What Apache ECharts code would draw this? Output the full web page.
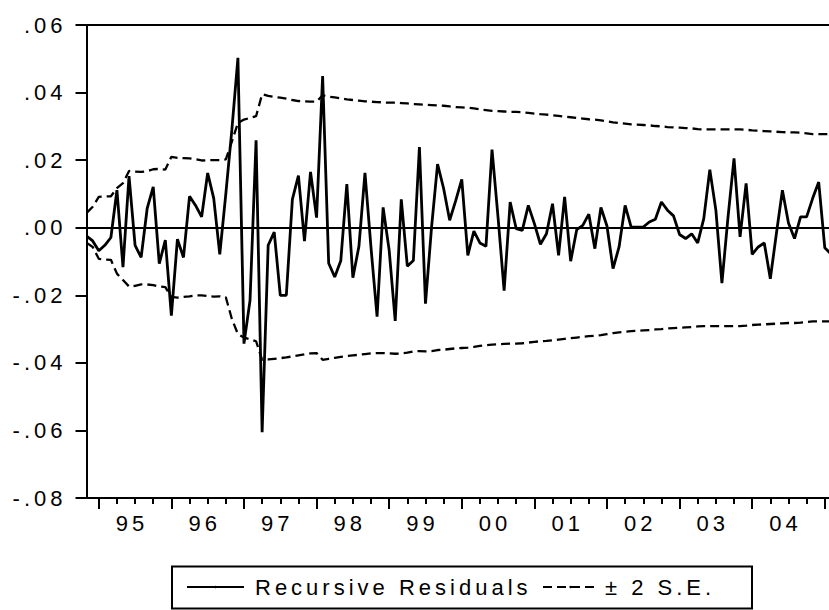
<!DOCTYPE html>
<html>
<head>
<meta charset="utf-8">
<title>Recursive Residuals</title>
<script src="https://cdn.jsdelivr.net/npm/echarts@6/dist/echarts.min.js"></script>
<style>
  html, body { margin: 0; padding: 0; background: #fff; }
  #chart { width: 829px; height: 610px; }
  #chart text { letter-spacing: 4px; }
</style>
</head>
<body>
<div id="chart"></div>
<script>
// Monthly sample, first recursive residual in 1994:11 (two months before Jan 1995)
const firstObsOffset = -2; // months relative to January 1995

const residuals = [
  -0.0025, -0.0039, -0.0068, -0.0052, -0.0029, 0.0111, -0.0117, 0.0153, -0.0052, -0.0088,
   0.0057,  0.0121, -0.0106, -0.0037, -0.0260, -0.0034, -0.0088, 0.0093,  0.0066,  0.0032,
   0.0162,  0.0087, -0.0079,  0.0100,  0.0290,  0.0503, -0.0343, -0.0215, 0.0259, -0.0605,
  -0.0052, -0.0013, -0.0200, -0.0200,  0.0084,  0.0154, -0.0040, 0.0165,  0.0030,  0.0449,
  -0.0105, -0.0146, -0.0098,  0.0129, -0.0148, -0.0055,  0.0162, -0.0060, -0.0263,  0.0060,
  -0.0067, -0.0276,  0.0084, -0.0114, -0.0097,  0.0239, -0.0225, 0.0000,  0.0188,  0.0116,
   0.0022,  0.0080,  0.0143, -0.0082, -0.0010, -0.0045, -0.0055, 0.0231,  0.0030, -0.0186,
   0.0076, -0.0003, -0.0008,  0.0066,  0.0012, -0.0049, -0.0018, 0.0071, -0.0082,  0.0091,
  -0.0099, -0.0006,  0.0007,  0.0040, -0.0062,  0.0060,  0.0005, -0.0121, -0.0057,  0.0066,
   0.0002,  0.0002,  0.0002,  0.0017,  0.0025,  0.0076,  0.0052, 0.0035, -0.0020, -0.0032,
  -0.0018, -0.0045,  0.0027,  0.0172,  0.0052, -0.0164,  0.0030, 0.0205, -0.0027,  0.0131,
  -0.0079, -0.0057, -0.0045, -0.0151, -0.0018,  0.0111,  0.0014, -0.0032, 0.0032,  0.0032,
   0.0087,  0.0135, -0.0059, -0.0077
];

const upperBand = [
  0.0044, 0.0062, 0.0091, 0.0093, 0.0093, 0.0117, 0.0132, 0.0168, 0.0166, 0.0165,
  0.0167, 0.0173, 0.0174, 0.0172, 0.0210, 0.0207, 0.0206, 0.0205, 0.0203, 0.0199,
  0.0200, 0.0200, 0.0200, 0.0202, 0.0255, 0.0310, 0.0320, 0.0325, 0.0330, 0.0395,
  0.0390, 0.0387, 0.0385, 0.0382, 0.0378, 0.0375, 0.0374, 0.0373, 0.0373, 0.0392,
  0.0388, 0.0386, 0.0383, 0.0380, 0.0378, 0.0376, 0.0374, 0.0373, 0.0372, 0.0371,
  0.0370, 0.0370, 0.0369, 0.0368, 0.0366, 0.0365, 0.0364, 0.0363, 0.0362, 0.0361,
  0.0359, 0.0357, 0.0356, 0.0355, 0.0353, 0.0350, 0.0348, 0.0346, 0.0345, 0.0344,
  0.0343, 0.0343, 0.0342, 0.0340, 0.0338, 0.0336, 0.0335, 0.0333, 0.0331, 0.0329,
  0.0327, 0.0325, 0.0323, 0.0321, 0.0320, 0.0318, 0.0315, 0.0312, 0.0310, 0.0308,
  0.0306, 0.0305, 0.0304, 0.0303, 0.0301, 0.0300, 0.0298, 0.0297, 0.0296, 0.0295,
  0.0294, 0.0292, 0.0291, 0.0291, 0.0291, 0.0291, 0.0291, 0.0291, 0.0291, 0.0290,
  0.0288, 0.0287, 0.0286, 0.0285, 0.0284, 0.0283, 0.0282, 0.0282, 0.0281, 0.0279,
  0.0277, 0.0277, 0.0277, 0.0277
];

const lowerBand = [
  -0.0045, -0.0057, -0.0092, -0.0094, -0.0095, -0.0136, -0.0155, -0.0174, -0.0172, -0.0168,
  -0.0168, -0.0170, -0.0174, -0.0176, -0.0205, -0.0207, -0.0205, -0.0203, -0.0200, -0.0200,
  -0.0202, -0.0204, -0.0203, -0.0206, -0.0270, -0.0315, -0.0325, -0.0330, -0.0336, -0.0391,
  -0.0390, -0.0388, -0.0386, -0.0384, -0.0381, -0.0378, -0.0375, -0.0372, -0.0371, -0.0391,
  -0.0388, -0.0385, -0.0382, -0.0380, -0.0378, -0.0376, -0.0374, -0.0372, -0.0371, -0.0371,
  -0.0372, -0.0373, -0.0372, -0.0370, -0.0366, -0.0365, -0.0366, -0.0365, -0.0362, -0.0361,
  -0.0359, -0.0357, -0.0356, -0.0355, -0.0353, -0.0350, -0.0348, -0.0346, -0.0345, -0.0344,
  -0.0343, -0.0343, -0.0342, -0.0340, -0.0338, -0.0336, -0.0335, -0.0333, -0.0331, -0.0329,
  -0.0327, -0.0325, -0.0323, -0.0321, -0.0320, -0.0318, -0.0315, -0.0312, -0.0310, -0.0308,
  -0.0306, -0.0305, -0.0304, -0.0303, -0.0301, -0.0300, -0.0298, -0.0297, -0.0296, -0.0295,
  -0.0294, -0.0292, -0.0291, -0.0291, -0.0291, -0.0291, -0.0291, -0.0291, -0.0291, -0.0290,
  -0.0288, -0.0287, -0.0286, -0.0285, -0.0284, -0.0283, -0.0282, -0.0282, -0.0281, -0.0279,
  -0.0277, -0.0277, -0.0277, -0.0277
];

const yearLabels = ['95', '96', '97', '98', '99', '00', '01', '02', '03', '04'];
const yTicks = { min: -0.08, max: 0.06, step: 0.02 };

// ---- derived helpers -------------------------------------------------
const toPoints = arr => arr.map((v, i) => [i + firstObsOffset, v]);

const yearStarts = [];
const quarterStarts = [];
for (let m = 0; m <= yearLabels.length * 12; m += 3) {
  (m % 12 === 0 ? yearStarts : quarterStarts).push(m);
}
const labelAnchors = yearLabels.map((_, j) => j * 12 + 5.5);

const FONT = "'Liberation Sans', Arial, sans-serif";
const BLACK = '#000';
const xRange = { min: -2.03, max: 120.7 };
const bandStyle = { color: BLACK, width: 2.3, type: [9, 5] };

const chart = echarts.init(document.getElementById('chart'), null, { renderer: 'svg' });

chart.setOption({
  animation: false,
  backgroundColor: '#fff',
  textStyle: { fontFamily: FONT, color: BLACK },
  grid: { left: 86.5, right: 0, top: 25, height: 473, containLabel: false },
  xAxis: [
    {
      type: 'value', position: 'bottom', min: xRange.min, max: xRange.max,
      splitLine: { show: false },
      axisLine: { show: true, onZero: false, lineStyle: { color: BLACK, width: 2 } },
      axisTick: { show: true, length: 11, customValues: yearStarts, lineStyle: { color: BLACK, width: 2 } },
      axisLabel: {
        show: true, customValues: labelAnchors, margin: 14,
        fontSize: 22, color: BLACK, fontFamily: FONT,
        formatter: v => yearLabels[Math.round((v - 5.5) / 12)]
      }
    },
    {
      type: 'value', position: 'bottom', min: xRange.min, max: xRange.max,
      splitLine: { show: false },
      axisLine: { show: false, onZero: false },
      axisTick: { show: true, length: 6, customValues: quarterStarts, lineStyle: { color: BLACK, width: 2 } },
      axisLabel: { show: false }
    },
    {
      type: 'value', position: 'top', min: xRange.min, max: xRange.max,
      splitLine: { show: false },
      axisLine: { show: true, onZero: false, lineStyle: { color: BLACK, width: 2 } },
      axisTick: { show: false },
      axisLabel: { show: false }
    }
  ],
  yAxis: {
    type: 'value', min: yTicks.min, max: yTicks.max, interval: yTicks.step,
    splitLine: { show: false },
    axisLine: { show: true, onZero: false, lineStyle: { color: BLACK, width: 2 } },
    axisTick: { show: true, length: 11, lineStyle: { color: BLACK, width: 2 } },
    axisLabel: {
      margin: 20, fontSize: 22, color: BLACK, fontFamily: FONT,
      formatter: v => v.toFixed(2).replace('0.', '.')
    }
  },
  legend: [
    {
      data: ['Recursive Residuals'], left: 186, top: 576, padding: 0,
      itemWidth: 57, itemHeight: 3, selectedMode: false,
      textStyle: { fontSize: 22, color: BLACK, fontFamily: FONT, padding: [0, 0, 0, 6] }
    },
    {
      data: ['± 2 S.E.'], left: 542, top: 576, padding: 0,
      itemWidth: 55, itemHeight: 3, selectedMode: false,
      textStyle: { fontSize: 22, color: BLACK, fontFamily: FONT, padding: [0, 0, 0, 2] }
    }
  ],
  graphic: [
    {
      type: 'rect', silent: true,
      shape: { x: 172, y: 566.5, width: 580, height: 42 },
      style: { fill: 'none', stroke: BLACK, lineWidth: 2 }
    }
  ],
  series: [
    {
      name: 'Recursive Residuals', type: 'line', xAxisIndex: 0,
      data: toPoints(residuals), symbol: 'none', showSymbol: false,
      lineStyle: { color: BLACK, width: 2.8 }, itemStyle: { color: BLACK },
      z: 4,
      markLine: {
        silent: true, symbol: 'none', label: { show: false },
        lineStyle: { color: BLACK, width: 1.8, type: 'solid' },
        data: [{ yAxis: 0 }]
      }
    },
    {
      name: '± 2 S.E.', type: 'line', xAxisIndex: 0,
      data: toPoints(upperBand), symbol: 'none', showSymbol: false,
      lineStyle: bandStyle, itemStyle: { color: BLACK }
    },
    {
      name: '± 2 S.E.', type: 'line', xAxisIndex: 0,
      data: toPoints(lowerBand), symbol: 'none', showSymbol: false,
      lineStyle: bandStyle, itemStyle: { color: BLACK }
    }
  ]
});
</script>
</body>
</html>
